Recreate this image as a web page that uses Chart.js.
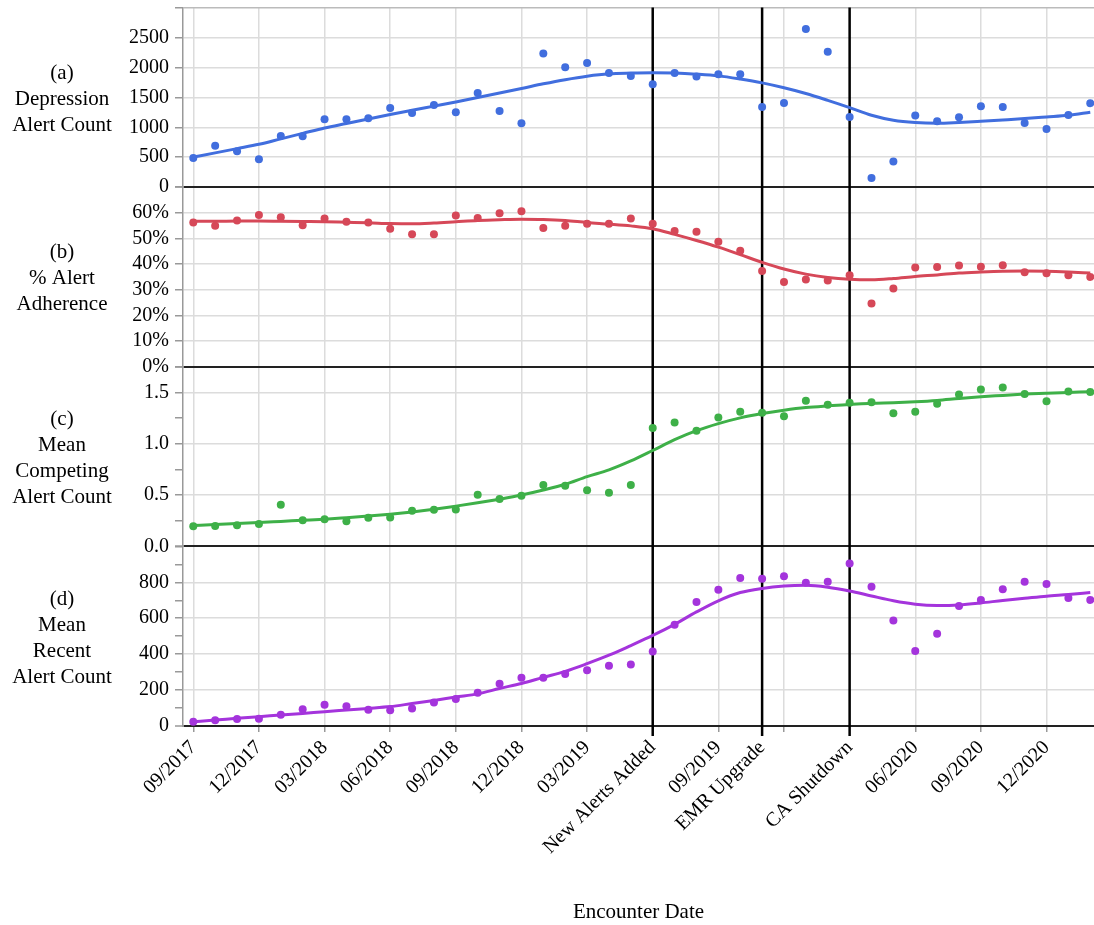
<!DOCTYPE html>
<html>
<head>
<meta charset="utf-8">
<script src="https://cdn.jsdelivr.net/npm/chart.js@4.4.1/dist/chart.umd.min.js"></script>
<style>
  body { margin: 0; background: #fff; overflow: hidden; }
  #wrap { width: 1094px; height: 925px; position: relative; }
</style>
</head>
<body>
<div id="wrap"><canvas id="chart"></canvas></div>
<script>
// monthly encounter dates
const months = ['09/2017', '10/2017', '11/2017', '12/2017', '01/2018', '02/2018', '03/2018', '04/2018',
  '05/2018', '06/2018', '07/2018', '08/2018', '09/2018', '10/2018', '11/2018', '12/2018', '01/2019',
  '02/2019', '03/2019', '04/2019', '05/2019', '06/2019', '07/2019', '08/2019', '09/2019', '10/2019',
  '11/2019', '12/2019', '01/2020', '02/2020', '03/2020', '04/2020', '05/2020', '06/2020', '07/2020',
  '08/2020', '09/2020', '10/2020', '11/2020', '12/2020', '01/2021', '02/2021'];

// x axis ticks (month index) and their text
const tickIdx = [0, 3, 6, 9, 12, 15, 18, 21, 24, 26, 27, 30, 33, 36, 39];
const tickText = ['09/2017', '12/2017', '03/2018', '06/2018', '09/2018', '12/2018', '03/2019',
  'New Alerts Added', '09/2019', 'EMR Upgrade', '', 'CA Shutdown', '06/2020', '09/2020', '12/2020'];
const eventIdx = [21, 26, 30];

// (a) depression alert count
const alertCount = [485, 693, 598, 464, 854, 850, 1133, 1133, 1150, 1323, 1239, 1373, 1251, 1574, 1273,
  1066, 2233, 2004, 2071, 1904, 1858, 1719, 1904, 1848, 1887, 1887, 1339, 1406, 2640, 2260, 1172, 151,
  430, 1195, 1100, 1167, 1351, 1339, 1072, 971, 1206, 1401];
const alertTrend = [502, 572, 643, 715, 806, 897, 988, 1063, 1138, 1212, 1283, 1353, 1423, 1497, 1572,
  1647, 1725, 1795, 1853, 1892, 1904, 1909, 1904, 1886, 1858, 1805, 1741, 1660, 1564, 1450, 1329, 1200,
  1117, 1078, 1066, 1080, 1100, 1122, 1145, 1172, 1200, 1251];

// (b) % alert adherence
const adherence = [56.2, 54.9, 57.0, 59.1, 58.3, 55.1, 57.8, 56.5, 56.2, 53.8, 51.6, 51.6, 58.9, 58.0,
  59.8, 60.6, 54.1, 54.9, 55.7, 55.7, 57.8, 55.7, 52.9, 52.6, 48.7, 45.2, 37.3, 33.0, 34.0, 33.6, 35.7,
  24.6, 30.5, 38.7, 38.9, 39.5, 39.0, 39.6, 36.8, 36.4, 35.7, 35.0];
const adherenceTrend = [56.7, 56.7, 56.8, 56.8, 56.7, 56.6, 56.5, 56.3, 56.1, 55.8, 55.7, 56.0, 56.5,
  57.0, 57.3, 57.5, 57.4, 57.0, 56.2, 55.6, 54.9, 53.8, 51.6, 49.2, 46.6, 43.7, 40.7, 38.1, 36.1, 34.8,
  34.1, 33.9, 34.4, 35.2, 35.8, 36.5, 36.9, 37.2, 37.3, 37.2, 36.9, 36.5];

// (c) mean competing alert count
const competing = [0.196, 0.199, 0.206, 0.219, 0.405, 0.255, 0.265, 0.245, 0.278, 0.281, 0.346, 0.356,
  0.359, 0.503, 0.461, 0.493, 0.598, 0.591, 0.546, 0.523, 0.598, 1.154, 1.206, 1.127, 1.255, 1.311,
  1.301, 1.268, 1.419, 1.379, 1.399, 1.405, 1.297, 1.311, 1.389, 1.480, 1.529, 1.549, 1.484, 1.415,
  1.510, 1.503];
const competingTrend = [0.203, 0.213, 0.222, 0.232, 0.243, 0.254, 0.265, 0.280, 0.296, 0.314, 0.336,
  0.362, 0.392, 0.424, 0.460, 0.500, 0.549, 0.605, 0.680, 0.745, 0.832, 0.934, 1.039, 1.127, 1.196,
  1.252, 1.294, 1.327, 1.353, 1.369, 1.382, 1.395, 1.400, 1.409, 1.422, 1.441, 1.458, 1.471, 1.484,
  1.493, 1.500, 1.507];

// (d) mean recent alert count
const recent = [24, 32, 39, 40, 63, 93, 118, 110, 90, 88, 97, 131, 151, 185, 235, 269, 269, 290, 310,
  335, 342, 415, 564, 691, 758, 824, 820, 833, 797, 803, 904, 775, 588, 418, 514, 668, 702, 762, 803,
  790, 713, 702];
const recentTrend = [24, 33, 43, 52, 61, 70, 80, 89, 98, 108, 125, 142, 161, 179, 209, 237, 271, 304,
  347, 394, 448, 504, 566, 635, 697, 743, 766, 779, 783, 773, 752, 724, 697, 678, 671, 674, 685, 699,
  711, 723, 732, 743];

const panelTitles = {
  ya: ['(a)', 'Depression', 'Alert Count'],
  yb: ['(b)', '% Alert', 'Adherence'],
  yc: ['(c)', 'Mean', 'Competing', 'Alert Count'],
  yd: ['(d)', 'Mean', 'Recent', 'Alert Count']
};

const SERIF = '"Liberation Serif", "Times New Roman", serif';
const BLUE = 'rgb(65, 110, 222)';
const RED = 'rgb(214, 72, 88)';
const GREEN = 'rgb(62, 176, 72)';
const PURPLE = 'rgb(164, 52, 220)';

const toXY = arr => arr.map((v, i) => ({ x: i, y: v }));

function pointSet(arr, color, axis) {
    return {
        data: toXY(arr), yAxisID: axis, showLine: false, order: 1,
        pointRadius: 4, pointHoverRadius: 4,
        pointBackgroundColor: color, pointBorderWidth: 0
    };
}

function trendSet(arr, color, axis) {
    return {
        data: toXY(arr), yAxisID: axis, order: 2,
        borderColor: color, borderWidth: 3, pointRadius: 0,
        cubicInterpolationMode: 'monotone', fill: false
    };
}

// y axis with its own panel in the vertical stack
function panelAxis(weight, max, step, labelFn, gridFn, showTop) {
    return {
        type: 'linear', position: 'left', stack: 'panels', stackWeight: 1, weight: weight,
        min: 0, max: max,
        border: { display: true, color: '#999', width: 1.5 },
        grid: {
            color: ctx => {
                const v = ctx.tick.value;
                if (Math.abs(v) < 1e-9) return '#222';
                if (Math.abs(v - max) < 1e-9) return showTop ? '#bbb' : 'rgba(0,0,0,0)';
                return gridFn(v) ? '#dcdcdc' : 'rgba(0,0,0,0)';
            },
            lineWidth: ctx => Math.abs(ctx.tick.value) < 1e-9 ? 2 : 1.5,
            tickColor: '#999', tickLength: 8, tickWidth: 1.5
        },
        ticks: {
            stepSize: step, autoSkip: false, padding: 6, color: '#000',
            font: { family: SERIF, size: 20 },
            callback: v => (Math.abs(v - max) < 1e-9) ? '' : labelFn(v)
        },
        afterFit: s => { s.width = 60; s.paddingTop = 0; s.paddingBottom = 0; }
    };
}

const isMult = (v, m) => Math.abs(v / m - Math.round(v / m)) < 1e-6;

// black event lines, drawn under the points
const eventLines = {
    id: 'eventLines',
    beforeDatasetsDraw(chart) {
        const { ctx, chartArea, scales } = chart;
        ctx.save();
        ctx.strokeStyle = '#000';
        ctx.lineWidth = 2.5;
        eventIdx.forEach(v => {
            const x = scales.x.getPixelForValue(v);
            ctx.beginPath();
            ctx.moveTo(x, chartArea.top);
            ctx.lineTo(x, chartArea.bottom + 10);
            ctx.stroke();
        });
        ctx.restore();
    }
};

// horizontal panel titles on the left
const panelLabels = {
    id: 'panelLabels',
    afterDraw(chart) {
        const ctx = chart.ctx;
        ctx.save();
        ctx.fillStyle = '#000';
        ctx.font = '21px ' + SERIF;
        ctx.textAlign = 'center';
        ctx.textBaseline = 'middle';
        const lh = 26;
        Object.keys(panelTitles).forEach(id => {
            const s = chart.scales[id];
            const lines = panelTitles[id];
            const mid = (s.top + s.bottom) / 2 + 2;
            const y0 = mid - (lines.length - 1) * lh / 2;
            lines.forEach((t, i) => ctx.fillText(t, 62, y0 + i * lh));
        });
        ctx.restore();
    }
};

new Chart(document.getElementById('chart'), {
    type: 'line',
    data: {
        datasets: [
            trendSet(alertTrend, BLUE, 'ya'), pointSet(alertCount, BLUE, 'ya'),
            trendSet(adherenceTrend, RED, 'yb'), pointSet(adherence, RED, 'yb'),
            trendSet(competingTrend, GREEN, 'yc'), pointSet(competing, GREEN, 'yc'),
            trendSet(recentTrend, PURPLE, 'yd'), pointSet(recent, PURPLE, 'yd')
        ]
    },
    options: {
        responsive: true,
        maintainAspectRatio: false,
        animation: false,
        layout: { autoPadding: false, padding: { left: 123, top: 7.5, right: 0, bottom: 0 } },
        plugins: {
            legend: { display: false },
            tooltip: { enabled: false }
        },
        scales: {
            x: {
                type: 'linear', min: -0.47, max: 41.17,
                border: { display: false },
                grid: {
                    color: ctx => eventIdx.includes(ctx.tick.value) ? 'rgba(0,0,0,0)' : '#dcdcdc',
                    lineWidth: 1.5,
                    tickColor: ctx => eventIdx.includes(ctx.tick.value) ? 'rgba(0,0,0,0)' : '#999',
                    tickLength: 6
                },
                afterBuildTicks: s => { s.ticks = tickIdx.map(v => ({ value: v })); },
                ticks: {
                    autoSkip: false, minRotation: 45, maxRotation: 45, padding: 4, color: '#000',
                    font: { family: SERIF, size: 20 },
                    callback: v => {
                        const k = tickIdx.indexOf(v);
                        return k >= 0 ? tickText[k] : '';
                    }
                },
                title: {
                    display: true, text: 'Encounter Date', color: '#000',
                    font: { family: SERIF, size: 21 },
                    padding: { top: 0, bottom: 0 }
                },
                afterFit: s => { s.height = 199; s.paddingLeft = 0; s.paddingRight = 0; }
            },
            ya: panelAxis(4, 3000, 500, v => String(v), v => isMult(v, 500), true),
            yb: panelAxis(3, 70, 10, v => Math.round(v) + '%', v => isMult(v, 10), false),
            yc: panelAxis(2, 1.75, 0.25, v => isMult(v, 0.5) ? v.toFixed(1) : '', v => isMult(v, 0.5), false),
            yd: panelAxis(1, 1000, 100, v => isMult(v, 200) ? String(v) : '', v => isMult(v, 200), false)
        }
    },
    plugins: [eventLines, panelLabels]
});
</script>
</body>
</html>
